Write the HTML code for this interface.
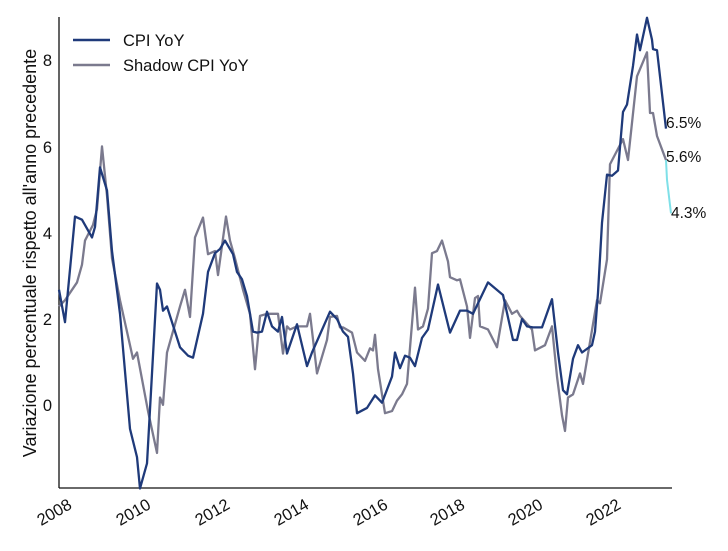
<!DOCTYPE html>
<html><head><meta charset="utf-8"><style>
body{margin:0;background:#fff}
svg text{font-family:"Liberation Sans",sans-serif;fill:#111}
</style></head><body>
<svg width="728" height="546" viewBox="0 0 728 546" xmlns="http://www.w3.org/2000/svg">
<rect width="728" height="546" fill="#fff"/>
<line x1="59" y1="17" x2="59" y2="488" stroke="#111" stroke-width="1.3"/>
<line x1="59" y1="488" x2="672" y2="488" stroke="#111" stroke-width="1.3"/>
<g font-size="16.5" text-anchor="end">
<text x="52" y="66">8</text><text x="52" y="153">6</text><text x="52" y="239">4</text><text x="52" y="325">2</text><text x="52" y="411">0</text>
</g>
<g font-size="16.5" text-anchor="middle">
<text transform="translate(57,517) rotate(-30)">2008</text>
<text transform="translate(136,517) rotate(-30)">2010</text>
<text transform="translate(215,517) rotate(-30)">2012</text>
<text transform="translate(294,517) rotate(-30)">2014</text>
<text transform="translate(373,517) rotate(-30)">2016</text>
<text transform="translate(450,517) rotate(-30)">2018</text>
<text transform="translate(528,517) rotate(-30)">2020</text>
<text transform="translate(606,517) rotate(-30)">2022</text>
</g>
<text transform="translate(36,253) rotate(-90)" font-size="18" text-anchor="middle">Variazione percentuale rispetto all'anno precedente</text>
<g transform="scale(1,1.046)">
<polyline fill="none" stroke="#7b7a8e" stroke-width="2.3" stroke-linejoin="round" vector-effect="non-scaling-stroke" points="59,293 65,287 77,270 82,253 85,230 93,215 97,200 102,140 107,187 112,247 120,287 133,343 137,337 148,393 157,433 160,380 163,387 167,337 180,293 185,277 190,303 195,227 203,208 208,243 215,240 218,263 226,207 230,230 235,247 243,277 250,300 255,353 260,302 267,300 278,300 283,338 287,312 290,315 297,312 307,312 310,300 317,357 327,325 330,303 337,302 340,313 343,313 352,318 357,337 360,340 365,345 370,333 373,335 375,320 378,353 385,395 392,393 397,383 402,377 407,367 415,275 418,315 423,312 428,295 432,242 437,240 442,230 448,250 450,265 457,268 460,267 467,293 470,323 475,285 478,283 480,312 488,315 497,332 505,287 512,300 517,297 520,302 532,315 535,335 545,330 552,312 557,360 562,397 565,412 568,380 573,377 580,357 583,367 597,287 600,290 607,248 610,157 623,133 628,153 637,73 647,50 650,108 653,108 657,130 666,153"/>
<polyline fill="none" stroke="#1f3a7a" stroke-width="2.3" stroke-linejoin="round" vector-effect="non-scaling-stroke" points="59,277 65,308 75,207 82,210 92,227 95,217 100,160 107,182 112,240 120,300 130,410 137,437 140,467 147,443 157,271 160,277 163,297 167,293 180,332 188,340 193,342 203,300 208,260 215,242 220,238 225,230 233,243 237,260 242,267 247,283 253,317 257,318 262,317 267,298 272,312 278,317 282,303 287,338 297,310 307,350 312,337 330,298 337,305 343,317 348,322 353,357 357,395 367,390 375,378 382,385 392,360 395,337 400,352 405,340 410,342 415,350 422,323 428,315 438,272 450,318 460,297 467,297 473,300 488,270 503,282 513,325 517,325 522,305 527,312 533,313 542,313 552,286 558,337 563,373 567,377 573,343 578,330 582,337 592,330 595,317 598,280 602,213 607,167 612,168 618,163 623,107 627,100 633,63 637,33 640,48 647,17 652,38 653,47 657,48 666,123"/>
<polyline fill="none" stroke="#7fe0e8" stroke-width="2" vector-effect="non-scaling-stroke" points="666,153 667,172 671,204"/>
</g>
<g font-size="15.5">
<text x="666" y="128">6.5%</text>
<text x="666" y="162">5.6%</text>
<text x="671" y="218">4.3%</text>
</g>
<line x1="73" y1="40" x2="110" y2="40" stroke="#1f3a7a" stroke-width="2.5"/>
<line x1="73" y1="65" x2="110" y2="65" stroke="#7b7a8e" stroke-width="2.5"/>
<g font-size="16.5"><text x="123" y="46">CPI YoY</text><text x="123" y="71">Shadow CPI YoY</text></g>
</svg>
</body></html>
